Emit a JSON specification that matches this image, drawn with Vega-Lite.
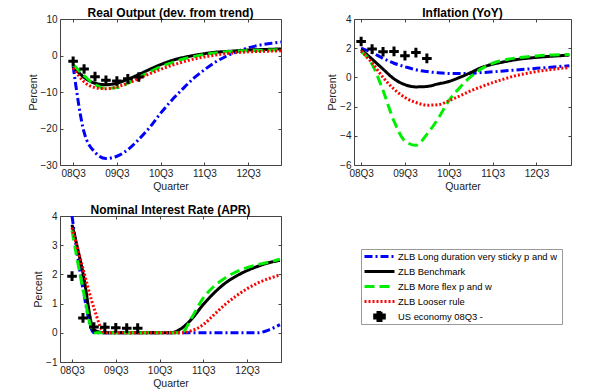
{
  "$schema": "https://vega.github.io/schema/vega-lite/v6.json",
  "background": "white",
  "padding": {"left": 27, "top": 6, "right": 2, "bottom": 2},
  "bounds": "flush",
  "columns": 2,
  "spacing": {"row": 51, "column": 73},
  "datasets": {
    "d": [
      {"p":"out","s":"B","q":0,"v":-2.9},{"p":"out","s":"B","q":1,"v":-21},{"p":"out","s":"B","q":2,"v":-26.5},{"p":"out","s":"B","q":3,"v":-28.2},{"p":"out","s":"B","q":4,"v":-27.6},{"p":"out","s":"B","q":5,"v":-25.8},{"p":"out","s":"B","q":6,"v":-23},{"p":"out","s":"B","q":7,"v":-19.7},{"p":"out","s":"B","q":8,"v":-15.8},{"p":"out","s":"B","q":9,"v":-12.3},{"p":"out","s":"B","q":10,"v":-9.2},{"p":"out","s":"B","q":11,"v":-6.3},{"p":"out","s":"B","q":12,"v":-3.9},{"p":"out","s":"B","q":13,"v":-1.8},{"p":"out","s":"B","q":14,"v":-0.2},{"p":"out","s":"B","q":15,"v":1.1},{"p":"out","s":"B","q":16,"v":2.1},{"p":"out","s":"B","q":17,"v":2.8},{"p":"out","s":"B","q":18,"v":3.3},{"p":"out","s":"B","q":19,"v":3.7},
      {"p":"out","s":"K","q":0,"v":-3.0},{"p":"out","s":"K","q":1,"v":-6.0},{"p":"out","s":"K","q":2,"v":-7.6},{"p":"out","s":"K","q":3,"v":-8.0},{"p":"out","s":"K","q":4,"v":-7.6},{"p":"out","s":"K","q":5,"v":-6.5},{"p":"out","s":"K","q":6,"v":-5.2},{"p":"out","s":"K","q":7,"v":-3.8},{"p":"out","s":"K","q":8,"v":-2.5},{"p":"out","s":"K","q":9,"v":-1.4},{"p":"out","s":"K","q":10,"v":-0.6},{"p":"out","s":"K","q":11,"v":0.0},{"p":"out","s":"K","q":12,"v":0.5},{"p":"out","s":"K","q":13,"v":0.9},{"p":"out","s":"K","q":14,"v":1.1},{"p":"out","s":"K","q":15,"v":1.3},{"p":"out","s":"K","q":16,"v":1.5},{"p":"out","s":"K","q":17,"v":1.6},{"p":"out","s":"K","q":18,"v":1.7},{"p":"out","s":"K","q":19,"v":1.8},
      {"p":"out","s":"G","q":0,"v":-2.5},{"p":"out","s":"G","q":1,"v":-5.5},{"p":"out","s":"G","q":2,"v":-8.0},{"p":"out","s":"G","q":3,"v":-9.0},{"p":"out","s":"G","q":4,"v":-8.8},{"p":"out","s":"G","q":5,"v":-7.6},{"p":"out","s":"G","q":6,"v":-6.0},{"p":"out","s":"G","q":7,"v":-4.5},{"p":"out","s":"G","q":8,"v":-3.1},{"p":"out","s":"G","q":9,"v":-2.0},{"p":"out","s":"G","q":10,"v":-1.0},{"p":"out","s":"G","q":11,"v":-0.3},{"p":"out","s":"G","q":12,"v":0.3},{"p":"out","s":"G","q":13,"v":0.7},{"p":"out","s":"G","q":14,"v":1.0},{"p":"out","s":"G","q":15,"v":1.2},{"p":"out","s":"G","q":16,"v":1.3},{"p":"out","s":"G","q":17,"v":1.4},{"p":"out","s":"G","q":18,"v":1.5},{"p":"out","s":"G","q":19,"v":1.6},
      {"p":"out","s":"R","q":0,"v":-3.4},{"p":"out","s":"R","q":1,"v":-7.2},{"p":"out","s":"R","q":2,"v":-8.8},{"p":"out","s":"R","q":3,"v":-9.1},{"p":"out","s":"R","q":4,"v":-8.6},{"p":"out","s":"R","q":5,"v":-7.6},{"p":"out","s":"R","q":6,"v":-6.3},{"p":"out","s":"R","q":7,"v":-5.0},{"p":"out","s":"R","q":8,"v":-3.8},{"p":"out","s":"R","q":9,"v":-2.7},{"p":"out","s":"R","q":10,"v":-1.8},{"p":"out","s":"R","q":11,"v":-1.0},{"p":"out","s":"R","q":12,"v":-0.4},{"p":"out","s":"R","q":13,"v":0.1},{"p":"out","s":"R","q":14,"v":0.5},{"p":"out","s":"R","q":15,"v":0.8},{"p":"out","s":"R","q":16,"v":1.0},{"p":"out","s":"R","q":17,"v":1.1},{"p":"out","s":"R","q":18,"v":1.2},{"p":"out","s":"R","q":19,"v":1.3},
      {"p":"out","s":"U","q":0,"v":-1.6},{"p":"out","s":"U","q":1,"v":-3.7},{"p":"out","s":"U","q":2,"v":-5.8},{"p":"out","s":"U","q":3,"v":-6.8},{"p":"out","s":"U","q":4,"v":-7.0},{"p":"out","s":"U","q":5,"v":-6.4},{"p":"out","s":"U","q":6,"v":-5.9},
      {"p":"inf","s":"B","q":0,"v":2.0},{"p":"inf","s":"B","q":1,"v":1.7},{"p":"inf","s":"B","q":2,"v":1.3},{"p":"inf","s":"B","q":3,"v":0.97},{"p":"inf","s":"B","q":4,"v":0.73},{"p":"inf","s":"B","q":5,"v":0.52},{"p":"inf","s":"B","q":6,"v":0.4},{"p":"inf","s":"B","q":7,"v":0.32},{"p":"inf","s":"B","q":8,"v":0.27},{"p":"inf","s":"B","q":9,"v":0.26},{"p":"inf","s":"B","q":10,"v":0.28},{"p":"inf","s":"B","q":11,"v":0.33},{"p":"inf","s":"B","q":12,"v":0.38},{"p":"inf","s":"B","q":13,"v":0.44},{"p":"inf","s":"B","q":14,"v":0.5},{"p":"inf","s":"B","q":15,"v":0.56},{"p":"inf","s":"B","q":16,"v":0.62},{"p":"inf","s":"B","q":17,"v":0.68},{"p":"inf","s":"B","q":18,"v":0.74},{"p":"inf","s":"B","q":19,"v":0.8},
      {"p":"inf","s":"K","q":0,"v":1.9},{"p":"inf","s":"K","q":1,"v":1.25},{"p":"inf","s":"K","q":2,"v":0.57},{"p":"inf","s":"K","q":3,"v":-0.1},{"p":"inf","s":"K","q":4,"v":-0.5},{"p":"inf","s":"K","q":5,"v":-0.65},{"p":"inf","s":"K","q":6,"v":-0.62},{"p":"inf","s":"K","q":7,"v":-0.45},{"p":"inf","s":"K","q":8,"v":-0.28},{"p":"inf","s":"K","q":9,"v":0.0},{"p":"inf","s":"K","q":10,"v":0.33},{"p":"inf","s":"K","q":11,"v":0.68},{"p":"inf","s":"K","q":12,"v":0.9},{"p":"inf","s":"K","q":13,"v":1.06},{"p":"inf","s":"K","q":14,"v":1.2},{"p":"inf","s":"K","q":15,"v":1.3},{"p":"inf","s":"K","q":16,"v":1.37},{"p":"inf","s":"K","q":17,"v":1.43},{"p":"inf","s":"K","q":18,"v":1.48},{"p":"inf","s":"K","q":19,"v":1.53},
      {"p":"inf","s":"G","q":0,"v":1.8},{"p":"inf","s":"G","q":1,"v":0.9},{"p":"inf","s":"G","q":2,"v":-0.9},{"p":"inf","s":"G","q":3,"v":-3.0},{"p":"inf","s":"G","q":4,"v":-4.35},{"p":"inf","s":"G","q":5,"v":-4.65},{"p":"inf","s":"G","q":6,"v":-3.9},{"p":"inf","s":"G","q":7,"v":-2.85},{"p":"inf","s":"G","q":8,"v":-1.6},{"p":"inf","s":"G","q":9,"v":-0.7},{"p":"inf","s":"G","q":10,"v":0.05},{"p":"inf","s":"G","q":11,"v":0.6},{"p":"inf","s":"G","q":12,"v":0.97},{"p":"inf","s":"G","q":13,"v":1.18},{"p":"inf","s":"G","q":14,"v":1.32},{"p":"inf","s":"G","q":15,"v":1.4},{"p":"inf","s":"G","q":16,"v":1.47},{"p":"inf","s":"G","q":17,"v":1.52},{"p":"inf","s":"G","q":18,"v":1.55},{"p":"inf","s":"G","q":19,"v":1.56},
      {"p":"inf","s":"R","q":0,"v":1.8},{"p":"inf","s":"R","q":1,"v":1.0},{"p":"inf","s":"R","q":2,"v":0.0},{"p":"inf","s":"R","q":3,"v":-0.8},{"p":"inf","s":"R","q":4,"v":-1.38},{"p":"inf","s":"R","q":5,"v":-1.72},{"p":"inf","s":"R","q":6,"v":-1.9},{"p":"inf","s":"R","q":7,"v":-1.88},{"p":"inf","s":"R","q":8,"v":-1.6},{"p":"inf","s":"R","q":9,"v":-1.27},{"p":"inf","s":"R","q":10,"v":-0.92},{"p":"inf","s":"R","q":11,"v":-0.63},{"p":"inf","s":"R","q":12,"v":-0.36},{"p":"inf","s":"R","q":13,"v":-0.12},{"p":"inf","s":"R","q":14,"v":0.1},{"p":"inf","s":"R","q":15,"v":0.26},{"p":"inf","s":"R","q":16,"v":0.4},{"p":"inf","s":"R","q":17,"v":0.51},{"p":"inf","s":"R","q":18,"v":0.6},{"p":"inf","s":"R","q":19,"v":0.68},
      {"p":"inf","s":"U","q":0,"v":2.46},{"p":"inf","s":"U","q":1,"v":1.94},{"p":"inf","s":"U","q":2,"v":1.76},{"p":"inf","s":"U","q":3,"v":1.78},{"p":"inf","s":"U","q":4,"v":1.49},{"p":"inf","s":"U","q":5,"v":1.7},{"p":"inf","s":"U","q":6,"v":1.3},
      {"p":"rate","s":"B","q":0,"v":4.0},{"p":"rate","s":"B","q":1,"v":1.5},{"p":"rate","s":"B","q":2,"v":0},{"p":"rate","s":"B","q":3,"v":0},{"p":"rate","s":"B","q":4,"v":0},{"p":"rate","s":"B","q":5,"v":0},{"p":"rate","s":"B","q":6,"v":0},{"p":"rate","s":"B","q":7,"v":0},{"p":"rate","s":"B","q":8,"v":0},{"p":"rate","s":"B","q":9,"v":0},{"p":"rate","s":"B","q":10,"v":0},{"p":"rate","s":"B","q":11,"v":0},{"p":"rate","s":"B","q":12,"v":0},{"p":"rate","s":"B","q":13,"v":0},{"p":"rate","s":"B","q":14,"v":0},{"p":"rate","s":"B","q":15,"v":0},{"p":"rate","s":"B","q":16,"v":0},{"p":"rate","s":"B","q":17,"v":0},{"p":"rate","s":"B","q":18,"v":0.1},{"p":"rate","s":"B","q":19,"v":0.28},
      {"p":"rate","s":"K","q":0,"v":3.7},{"p":"rate","s":"K","q":1,"v":2.05},{"p":"rate","s":"K","q":2,"v":0.1},{"p":"rate","s":"K","q":3,"v":0},{"p":"rate","s":"K","q":4,"v":0},{"p":"rate","s":"K","q":5,"v":0},{"p":"rate","s":"K","q":6,"v":0},{"p":"rate","s":"K","q":7,"v":0},{"p":"rate","s":"K","q":8,"v":0},{"p":"rate","s":"K","q":9,"v":0},{"p":"rate","s":"K","q":10,"v":0.15},{"p":"rate","s":"K","q":11,"v":0.5},{"p":"rate","s":"K","q":12,"v":0.97},{"p":"rate","s":"K","q":13,"v":1.37},{"p":"rate","s":"K","q":14,"v":1.7},{"p":"rate","s":"K","q":15,"v":1.94},{"p":"rate","s":"K","q":16,"v":2.13},{"p":"rate","s":"K","q":17,"v":2.28},{"p":"rate","s":"K","q":18,"v":2.4},{"p":"rate","s":"K","q":19,"v":2.48},
      {"p":"rate","s":"G","q":0,"v":3.5},{"p":"rate","s":"G","q":1,"v":1.5},{"p":"rate","s":"G","q":2,"v":0},{"p":"rate","s":"G","q":3,"v":0},{"p":"rate","s":"G","q":4,"v":0},{"p":"rate","s":"G","q":5,"v":0},{"p":"rate","s":"G","q":6,"v":0},{"p":"rate","s":"G","q":7,"v":0},{"p":"rate","s":"G","q":8,"v":0},{"p":"rate","s":"G","q":9,"v":0},{"p":"rate","s":"G","q":10,"v":0},{"p":"rate","s":"G","q":11,"v":0.56},{"p":"rate","s":"G","q":12,"v":1.2},{"p":"rate","s":"G","q":13,"v":1.6},{"p":"rate","s":"G","q":14,"v":1.88},{"p":"rate","s":"G","q":15,"v":2.09},{"p":"rate","s":"G","q":16,"v":2.23},{"p":"rate","s":"G","q":17,"v":2.34},{"p":"rate","s":"G","q":18,"v":2.42},{"p":"rate","s":"G","q":19,"v":2.52},
      {"p":"rate","s":"R","q":0,"v":3.6},{"p":"rate","s":"R","q":1,"v":2.2},{"p":"rate","s":"R","q":2,"v":0.85},{"p":"rate","s":"R","q":3,"v":0},{"p":"rate","s":"R","q":4,"v":0},{"p":"rate","s":"R","q":5,"v":0},{"p":"rate","s":"R","q":6,"v":0},{"p":"rate","s":"R","q":7,"v":0},{"p":"rate","s":"R","q":8,"v":0},{"p":"rate","s":"R","q":9,"v":0},{"p":"rate","s":"R","q":10,"v":0},{"p":"rate","s":"R","q":11,"v":0.08},{"p":"rate","s":"R","q":12,"v":0.28},{"p":"rate","s":"R","q":13,"v":0.63},{"p":"rate","s":"R","q":14,"v":0.97},{"p":"rate","s":"R","q":15,"v":1.26},{"p":"rate","s":"R","q":16,"v":1.51},{"p":"rate","s":"R","q":17,"v":1.71},{"p":"rate","s":"R","q":18,"v":1.86},{"p":"rate","s":"R","q":19,"v":1.98},
      {"p":"rate","s":"U","q":0,"v":1.94},{"p":"rate","s":"U","q":1,"v":0.51},{"p":"rate","s":"U","q":2,"v":0.2},{"p":"rate","s":"U","q":3,"v":0.19},{"p":"rate","s":"U","q":4,"v":0.17},{"p":"rate","s":"U","q":5,"v":0.16},{"p":"rate","s":"U","q":6,"v":0.16}
    ]
  },
  "data": {"name": "d"},
  "concat": [
    {
      "width": 221, "height": 146,
      "title": "Real Output (dev. from trend)",
      "transform": [{"filter": "datum.p === 'out'"}],
      "encoding": {
        "x": {"field": "q", "type": "quantitative", "scale": {"domain": [-1.2, 19], "nice": false, "zero": false}, "axis": {"values": [0, 4, 8, 12, 16], "labelOverlap": false, "labelExpr": "['08Q3','09Q3','10Q3','11Q3','12Q3'][datum.value/4]", "title": "Quarter"}},
        "y": {"field": "v", "type": "quantitative", "scale": {"domain": [-30, 10], "nice": false, "zero": false}, "axis": {"values": [-30, -20, -10, 0, 10], "labelOverlap": false, "title": "Percent"}}
      },
      "layer": [
        {
          "transform": [{"filter": "datum.s !== 'U'"}],
          "mark": {"type": "line", "strokeWidth": 3, "interpolate": "monotone", "clip": true},
          "encoding": {
            "color": {"field": "s", "type": "nominal", "scale": {"domain": ["B", "K", "G", "R", "U"], "range": ["#0000ff", "#000000", "#00ee00", "#ff0000", "#000000"]}, "legend": {"labelExpr": "{'B':'ZLB  Long duration very sticky p and w','K':'ZLB Benchmark','G':'ZLB More flex p and w','R':'ZLB Looser rule','U':'US economy 08Q3 -'}[datum.label]"}},
            "strokeDash": {"field": "s", "type": "nominal", "scale": {"domain": ["B", "K", "G", "R", "U"], "range": [[8, 3, 2, 3], [1, 0], [10, 5], [2, 2], [1, 0]]}, "legend": {"labelExpr": "{'B':'ZLB  Long duration very sticky p and w','K':'ZLB Benchmark','G':'ZLB More flex p and w','R':'ZLB Looser rule','U':'US economy 08Q3 -'}[datum.label]"}}
          }
        },
        {
          "transform": [{"filter": "datum.s === 'U'"}],
          "mark": {"type": "point", "filled": true, "size": 900, "opacity": 1},
          "encoding": {
            "x": {"field": "q", "type": "quantitative", "axis": {"orient": "top", "values": [0, 4, 8, 12, 16], "labels": false, "title": null}},
            "y": {"field": "v", "type": "quantitative", "axis": {"orient": "right", "values": [-30, -20, -10, 0, 10], "labels": false, "title": null}},
            "color": {"field": "s", "type": "nominal"},
            "shape": {"field": "s", "type": "nominal", "scale": {"domain": ["B", "K", "G", "R", "U"], "range": ["stroke", "stroke", "stroke", "stroke", "M-0.1,-0.32H0.1V-0.1H0.32V0.1H0.1V0.32H-0.1V0.1H-0.32V-0.1H-0.1Z"]}, "legend": {"labelExpr": "{'B':'ZLB  Long duration very sticky p and w','K':'ZLB Benchmark','G':'ZLB More flex p and w','R':'ZLB Looser rule','U':'US economy 08Q3 -'}[datum.label]"}}
          }
        }
      ],
      "resolve": {"axis": {"x": "independent", "y": "independent"}}
    },
    {
      "width": 217, "height": 146,
      "title": "Inflation (YoY)",
      "transform": [{"filter": "datum.p === 'inf'"}],
      "encoding": {
        "x": {"field": "q", "type": "quantitative", "scale": {"domain": [-0.65, 19.15], "nice": false, "zero": false}, "axis": {"values": [0, 4, 8, 12, 16], "labelOverlap": false, "labelExpr": "['08Q3','09Q3','10Q3','11Q3','12Q3'][datum.value/4]", "title": "Quarter"}},
        "y": {"field": "v", "type": "quantitative", "scale": {"domain": [-6, 4], "nice": false, "zero": false}, "axis": {"values": [-6, -4, -2, 0, 2, 4], "labelOverlap": false, "title": "Percent"}}
      },
      "layer": [
        {
          "transform": [{"filter": "datum.s !== 'U'"}],
          "mark": {"type": "line", "strokeWidth": 3, "interpolate": "monotone", "clip": true},
          "encoding": {
            "color": {"field": "s", "type": "nominal"},
            "strokeDash": {"field": "s", "type": "nominal"}
          }
        },
        {
          "transform": [{"filter": "datum.s === 'U'"}],
          "mark": {"type": "point", "filled": true, "size": 900, "opacity": 1},
          "encoding": {
            "x": {"field": "q", "type": "quantitative", "axis": {"orient": "top", "values": [0, 4, 8, 12, 16], "labels": false, "title": null}},
            "y": {"field": "v", "type": "quantitative", "axis": {"orient": "right", "values": [-6, -4, -2, 0, 2, 4], "labels": false, "title": null}},
            "color": {"field": "s", "type": "nominal"},
            "shape": {"field": "s", "type": "nominal"}
          }
        }
      ],
      "resolve": {"axis": {"x": "independent", "y": "independent"}}
    },
    {
      "width": 221, "height": 146,
      "title": "Nominal Interest Rate (APR)",
      "transform": [{"filter": "datum.p === 'rate'"}],
      "encoding": {
        "x": {"field": "q", "type": "quantitative", "scale": {"domain": [-1.1, 19.1], "nice": false, "zero": false}, "axis": {"values": [0, 4, 8, 12, 16], "labelOverlap": false, "labelExpr": "['08Q3','09Q3','10Q3','11Q3','12Q3'][datum.value/4]", "title": "Quarter"}},
        "y": {"field": "v", "type": "quantitative", "scale": {"domain": [-1, 4], "nice": false, "zero": false}, "axis": {"values": [-1, 0, 1, 2, 3, 4], "labelOverlap": false, "title": "Percent"}}
      },
      "layer": [
        {
          "transform": [{"filter": "datum.s !== 'U'"}],
          "mark": {"type": "line", "strokeWidth": 3, "interpolate": "monotone", "clip": true},
          "encoding": {
            "color": {"field": "s", "type": "nominal"},
            "strokeDash": {"field": "s", "type": "nominal"}
          }
        },
        {
          "transform": [{"filter": "datum.s === 'U'"}],
          "mark": {"type": "point", "filled": true, "size": 900, "opacity": 1},
          "encoding": {
            "x": {"field": "q", "type": "quantitative", "axis": {"orient": "top", "values": [0, 4, 8, 12, 16], "labels": false, "title": null}},
            "y": {"field": "v", "type": "quantitative", "axis": {"orient": "right", "values": [-1, 0, 1, 2, 3, 4], "labels": false, "title": null}},
            "color": {"field": "s", "type": "nominal"},
            "shape": {"field": "s", "type": "nominal"}
          }
        }
      ],
      "resolve": {"axis": {"x": "independent", "y": "independent"}}
    }
  ],
  "resolve": {"scale": {"color": "shared", "strokeDash": "shared", "shape": "shared"}, "legend": {"color": "shared", "strokeDash": "shared", "shape": "shared"}},
  "config": {
    "font": "Liberation Sans",
    "view": {"stroke": "#444", "strokeWidth": 1},
    "axis": {"grid": false, "domain": false, "ticks": true, "tickSize": -3, "tickColor": "#444", "labelOverlap": false, "labelFontSize": 10, "labelColor": "#222", "titleFontSize": 10.5, "titleFontWeight": "normal", "titleColor": "#222", "labelPadding": 6},
    "axisY": {"titlePadding": 2},
    "axisX": {"titlePadding": 3},
    "title": {"fontSize": 12, "fontWeight": "bold", "offset": -6, "color": "#000"},
    "legend": {"title": null, "orient": "none", "legendX": 301, "legendY": 230, "symbolType": "stroke", "symbolSize": 900, "symbolStrokeWidth": 3, "clipHeight": 11, "labelLimit": 300, "labelOffset": 2, "labelFontSize": 9.4, "labelFont": "Liberation Sans", "labelColor": "#000", "strokeColor": "#999", "padding": 2, "fillColor": "white", "rowPadding": 4}
  }
}
